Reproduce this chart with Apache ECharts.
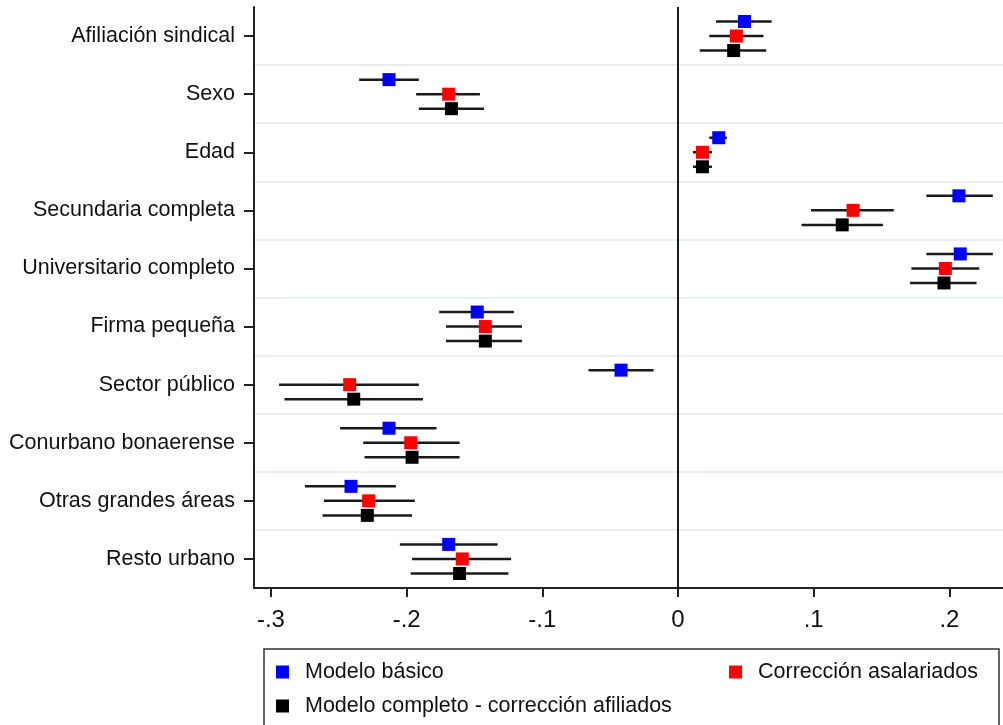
<!DOCTYPE html>
<html>
<head>
<meta charset="utf-8">
<script src="https://cdn.jsdelivr.net/npm/echarts@6/dist/echarts.min.js"></script>
<style>
  html, body { margin: 0; padding: 0; background: #fff; }
  #main { width: 1003px; height: 725px; }
</style>
</head>
<body>
<div id="main"></div>
<script>
var myChart = echarts.init(document.getElementById('main'));

// categories (top to bottom)
var categories = ['Afiliación sindical', 'Sexo', 'Edad', 'Secundaria completa', 'Universitario completo',
  'Firma pequeña', 'Sector público', 'Conurbano bonaerense', 'Otras grandes áreas', 'Resto urbano'];

// point estimates and confidence intervals
var basico_est = [0.049, -0.213, 0.030, 0.207, 0.208, -0.148, -0.042, -0.213, -0.241, -0.169];
var basico_lo  = [0.028, -0.235, 0.023, 0.183, 0.183, -0.176, -0.066, -0.249, -0.275, -0.205];
var basico_hi  = [0.069, -0.191, 0.036, 0.232, 0.232, -0.121, -0.018, -0.178, -0.208, -0.133];

var asal_est = [0.043, -0.169, 0.018, 0.129, 0.197, -0.142, -0.242, -0.197, -0.228, -0.159];
var asal_lo  = [0.023, -0.193, 0.011, 0.098, 0.172, -0.171, -0.294, -0.232, -0.261, -0.196];
var asal_hi  = [0.063, -0.146, 0.025, 0.159, 0.222, -0.115, -0.191, -0.161, -0.194, -0.123];

var comp_est = [0.041, -0.167, 0.018, 0.121, 0.196, -0.142, -0.239, -0.196, -0.229, -0.161];
var comp_lo  = [0.016, -0.191, 0.011, 0.091, 0.171, -0.171, -0.290, -0.231, -0.262, -0.197];
var comp_hi  = [0.065, -0.143, 0.025, 0.151, 0.220, -0.115, -0.188, -0.161, -0.196, -0.125];

var tickValues = [-0.3, -0.2, -0.1, 0, 0.1, 0.2];
var tickLabels = ['-.3', '-.2', '-.1', '0', '.1', '.2'];

var font = 'Liberation Sans, Arial, sans-serif';

function rows(est, lo, hi) {
  var out = [];
  for (var i = 0; i < est.length; i++) {
    out.push([est[i], i, lo[i], hi[i]]);
  }
  return out;
}

function ciSeries(name, color, shift, est, lo, hi) {
  return {
    name: name,
    type: 'custom',
    itemStyle: { color: color },
    encode: { x: [0, 2, 3], y: 1 },
    data: rows(est, lo, hi),
    renderItem: function (params, api) {
      var band = api.size([0, 1])[1];
      var dy = band * shift;
      var p = api.coord([api.value(0), api.value(1)]);
      var a = api.coord([api.value(2), api.value(1)]);
      var b = api.coord([api.value(3), api.value(1)]);
      var s = 13;
      return {
        type: 'group',
        children: [
          { type: 'line', shape: { x1: a[0], y1: a[1] + dy, x2: b[0], y2: b[1] + dy },
            style: { stroke: '#1a1a1a', lineWidth: 2.5 } },
          { type: 'rect', shape: { x: p[0] - s / 2, y: p[1] + dy - s / 2, width: s, height: s },
            style: { fill: color } }
        ]
      };
    }
  };
}

var basicoSeries = ciSeries('Modelo básico', '#0000ff', -0.25, basico_est, basico_lo, basico_hi);
basicoSeries.markLine = {
  silent: true,
  symbol: 'none',
  label: { show: false },
  lineStyle: { color: '#1a1a1a', type: 'solid', width: 2 },
  data: [{ xAxis: 0 }]
};

var legendText = { fontFamily: font, fontSize: 21.5, color: '#111', lineHeight: 22, padding: [0, 0, 0, 11] };

var option = {
  animation: false,
  grid: { left: 254, right: 0, top: 7, bottom: 137 },
  xAxis: {
    type: 'value',
    min: -0.3125,
    max: 0.2395,
    splitLine: { show: false },
    axisLine: { show: true, onZero: false, lineStyle: { color: '#222', width: 2 } },
    axisTick: { show: true, length: 9, lineStyle: { color: '#222', width: 2 }, customValues: tickValues },
    axisLabel: {
      customValues: tickValues,
      margin: 20,
      fontFamily: font,
      fontSize: 24,
      color: '#111',
      formatter: function (v) {
        for (var i = 0; i < tickValues.length; i++) {
          if (Math.abs(tickValues[i] - v) < 1e-9) return tickLabels[i];
        }
        return '';
      }
    }
  },
  yAxis: {
    type: 'category',
    inverse: true,
    data: categories,
    axisLine: { show: true, onZero: false, lineStyle: { color: '#222', width: 2 } },
    axisTick: { show: true, alignWithLabel: true, length: 10, lineStyle: { color: '#222', width: 2 } },
    axisLabel: { margin: 19, fontFamily: font, fontSize: 21.5, color: '#111' },
    splitLine: { show: true, showMinLine: false, lineStyle: { color: '#e8eff1', width: 2 } }
  },
  legend: [
    {
      orient: 'vertical',
      left: 276,
      top: 661,
      padding: 0,
      itemGap: 12,
      itemWidth: 13,
      itemHeight: 13,
      icon: 'rect',
      selectedMode: false,
      textStyle: legendText,
      data: ['Modelo básico', 'Modelo completo - corrección afiliados']
    },
    {
      orient: 'vertical',
      left: 729,
      top: 661,
      padding: 0,
      itemWidth: 13,
      itemHeight: 13,
      icon: 'rect',
      selectedMode: false,
      textStyle: legendText,
      data: ['Corrección asalariados']
    }
  ],
  graphic: [
    {
      type: 'rect',
      silent: true,
      shape: { x: 264, y: 649, width: 735, height: 110 },
      style: { fill: 'none', stroke: '#333', lineWidth: 1.5 }
    }
  ],
  series: [
    basicoSeries,
    ciSeries('Corrección asalariados', '#ff0000', 0, asal_est, asal_lo, asal_hi),
    ciSeries('Modelo completo - corrección afiliados', '#000000', 0.25, comp_est, comp_lo, comp_hi)
  ]
};
myChart.setOption(option);
</script>
</body>
</html>
